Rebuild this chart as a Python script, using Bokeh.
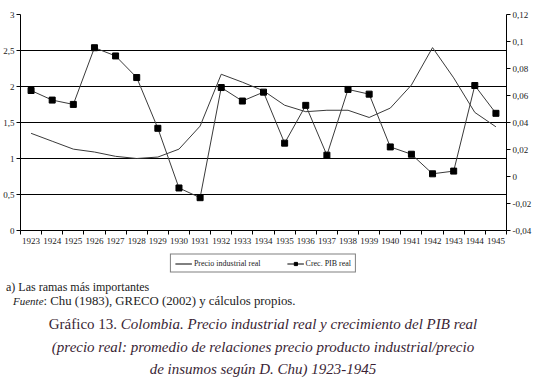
from bokeh.plotting import figure
from bokeh.models import (Range1d, LinearAxis, FixedTicker, Legend, LegendItem, Div)
from bokeh.layouts import column
from bokeh.embed import file_html
from bokeh.resources import INLINE

years = list(range(1923, 1946))
precio_industrial = [1.35, 1.24, 1.13, 1.09, 1.03, 1.00, 1.02, 1.13, 1.45, 2.17, 2.06, 1.94,
                     1.74, 1.65, 1.67, 1.67, 1.57, 1.70, 2.02, 2.54, 2.12, 1.64, 1.44]
crec_pib = [0.0637, 0.0566, 0.0534, 0.0954, 0.0893, 0.0733, 0.0357, -0.0085, -0.0157, 0.0659,
            0.0559, 0.0625, 0.0247, 0.0527, 0.0158, 0.0645, 0.0610, 0.0219, 0.0165, 0.0020,
            0.0040, 0.0674, 0.0468]
left_ticks = [0, 0.5, 1, 1.5, 2, 2.5, 3]
left_labels = ["0", "0,5", "1", "1,5", "2", "2,5", "3"]
right_ticks = [-0.04, -0.02, 0, 0.02, 0.04, 0.06, 0.08, 0.1, 0.12]
right_labels = ["-0,04", "-0,02", "0", "0,02", "0,04", "0,06", "0,08", "0,1", "0,12"]
grid_ticks = [0.5, 1, 1.5, 2, 2.5]
series_names = ["Precio industrial real", "Crec. PIB real"]

FONT = "'Times New Roman', 'Liberation Serif', 'DejaVu Serif', serif"
TXT = "#222222"
LINE = "#3a3a3a"
W = 534

p = figure(width=W, height=246, output_backend="svg", toolbar_location=None,
           x_range=Range1d(1922.5, 1945.5), y_range=Range1d(0, 3),
           min_border_left=0, min_border_right=0, min_border_top=14, min_border_bottom=0)
p.outline_line_color = None
p.background_fill_color = "white"
p.border_fill_color = "white"

p.extra_y_ranges = {"pib": Range1d(-0.04, 0.12)}

# x axis
xa = p.xaxis[0]
xa.ticker = FixedTicker(ticks=years, minor_ticks=[y - 0.5 for y in years] + [1945.5])
xa.major_tick_out = 0
xa.major_tick_in = 0
xa.minor_tick_out = 4
xa.minor_tick_in = 0
xa.minor_tick_line_color = "black"
xa.axis_line_color = "black"
xa.major_label_text_font = FONT
xa.major_label_text_font_size = "9px"
xa.major_label_text_color = TXT
xa.major_label_standoff = 3

# left y axis
ya = p.yaxis[0]
ya.ticker = FixedTicker(ticks=left_ticks)
ya.major_label_overrides = {t: l for t, l in zip(left_ticks, left_labels)}
ya.minor_tick_line_color = None
ya.major_tick_in = 0
ya.major_tick_out = 4
ya.major_tick_line_color = "black"
ya.axis_line_color = "black"
ya.major_label_text_font = FONT
ya.major_label_text_font_size = "9px"
ya.major_label_text_color = TXT
ya.major_label_standoff = 2

# right y axis
ra = LinearAxis(y_range_name="pib", ticker=FixedTicker(ticks=right_ticks))
ra.major_label_overrides = {t: l for t, l in zip(right_ticks, right_labels)}
ra.minor_tick_line_color = None
ra.major_tick_in = 0
ra.major_tick_out = 4
ra.major_tick_line_color = "black"
ra.axis_line_color = "black"
ra.major_label_text_font = FONT
ra.major_label_text_font_size = "9px"
ra.major_label_text_color = TXT
ra.major_label_standoff = 2
p.add_layout(ra, "right")

p.xgrid.visible = False
p.ygrid.ticker = FixedTicker(ticks=grid_ticks)
p.ygrid.grid_line_color = "black"
p.ygrid.grid_line_width = 1

p.line(years, precio_industrial, line_color=LINE, line_width=1)
p.line(years, crec_pib, y_range_name="pib", line_color=LINE, line_width=1)
p.scatter(years, crec_pib, y_range_name="pib", marker="square", size=6,
          fill_color="black", line_color="black")

# legend in its own strip below the chart (series drawn out of view, only the legend shows)
lf = figure(width=W, height=34, output_backend="svg", toolbar_location=None,
            x_range=Range1d(0, 1), y_range=Range1d(0, 1),
            min_border=0, outline_line_color=None)
lf.axis.visible = False
lf.grid.visible = False
lr1 = lf.line(years, precio_industrial, line_color="black", line_width=1)
lr2 = lf.line(years, crec_pib, line_color="black", line_width=1)
lr3 = lf.scatter(years, crec_pib, marker="square", size=6, fill_color="black", line_color="black")
legend = Legend(items=[LegendItem(label=series_names[0], renderers=[lr1]),
                       LegendItem(label=series_names[1], renderers=[lr2, lr3])],
                orientation="horizontal", location="center",
                label_text_font=FONT, label_text_font_size="8px", label_text_color=TXT,
                border_line_color="black", border_line_width=1,
                background_fill_color="white",
                glyph_width=17, glyph_height=8, label_standoff=2, spacing=26,
                padding=4, margin=0, label_height=8)
lf.add_layout(legend, "center")

html_text = (
    '<div style="font-family: \'Times New Roman\', \'Liberation Serif\', serif; color:#222; font-size:12px; line-height:14px; margin-left:6px;">'
    'a) Las ramas más importantes<br>'
    '<span style="font-size:12.8px; padding-left:7px;"><i style="font-size:11px;">Fuente</i>: Chu (1983), GRECO (2002) y cálculos propios.</span>'
    '</div>'
    '<div style="font-family: \'Times New Roman\', \'Liberation Serif\', serif; color:#3a1f35; font-size:15px; line-height:22.5px; text-align:center; width:526px; margin-top:5px;">'
    'Gráfico 13. <i>Colombia. Precio industrial real y crecimiento del PIB real</i><br>'
    '<i>(precio real: promedio de relaciones precio producto industrial/precio</i><br>'
    '<i>de insumos según D. Chu) 1923-1945</i>'
    '</div>'
)
div = Div(text=html_text, width=W, height=103, margin=(0, 0, 0, 0))

layout = column(p, lf, div, spacing=0)
open("out.html", "w").write(file_html(layout, INLINE))
